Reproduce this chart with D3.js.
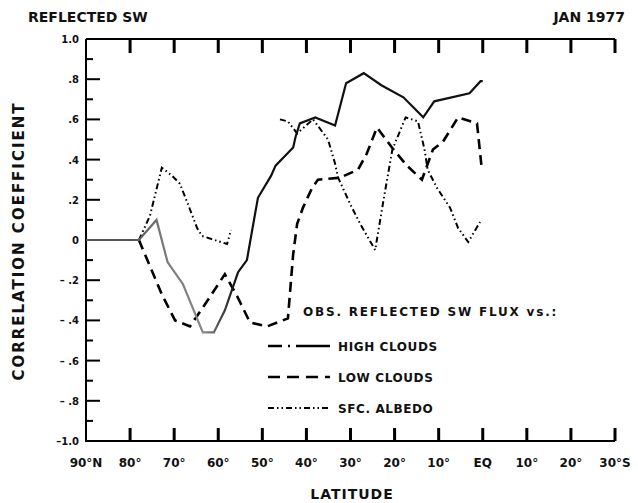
<!DOCTYPE html>
<meta charset="utf-8">
<script src="https://d3js.org/d3.v7.min.js"></script>
<style>
  body { margin: 0; background: #fff; }
  text { font-family: "DejaVu Sans", sans-serif; font-weight: bold; fill: #111; }
</style>
<div id="chart"></div>
<script>
// axis ticks and labels
var latTicks = [90, 80, 70, 60, 50, 40, 30, 20, 10, 0, -10, -20, -30];
var latLabels = ["90°N", "80°", "70°", "60°", "50°", "40°", "30°", "20°", "10°", "EQ", "10°", "20°", "30°S"];
var corrTicks = [1, 0.8, 0.6, 0.4, 0.2, 0, -0.2, -0.4, -0.6, -0.8, -1];
var corrLabels = ["1.0", ".8", ".6", ".4", ".2", "0", "– .2", "– .4", "– .6", "– .8", "–1.0"];

// high clouds (solid)
var highLat = [90, 78, 74, 71.5, 68, 63.5, 61, 58.5, 55.5, 53.5, 51, 48, 47, 43, 42.5, 41.5, 38, 33.5, 31, 27, 23, 18, 13.5, 11, 3, 0.5, 0];
var highVal = [0, 0, 0.10, -0.11, -0.22, -0.46, -0.46, -0.35, -0.16, -0.10, 0.21, 0.32, 0.37, 0.46, 0.51, 0.58, 0.61, 0.57, 0.78, 0.83, 0.77, 0.71, 0.61, 0.69, 0.73, 0.79, 0.79];

// low clouds (dashed)
var lowLat = [78, 72.8, 69.8, 66.4, 63, 58.5, 55.7, 52.8, 48.9, 44.2, 43, 42.1, 40.8, 38.7, 37.4, 32.4, 28.3, 26.3, 24, 20.6, 17.2, 13.8, 11.3, 9, 5.6, 1.3, 0.2];
var lowVal = [0, -0.27, -0.40, -0.43, -0.32, -0.17, -0.28, -0.41, -0.43, -0.39, -0.07, 0.08, 0.16, 0.26, 0.30, 0.31, 0.35, 0.43, 0.56, 0.46, 0.37, 0.30, 0.45, 0.49, 0.61, 0.58, 0.35];

// surface albedo (dash-dot), null = no line
var albLat = [78, 75.5, 72.8, 70.5, 68.7, 66.9, 64.8, 63.7, 58, 57.1, 52, 46, 44.2, 42.1, 38.5, 35.1, 33.5, 32.8, 30.1, 27.8, 24.4, 22.5, 20.5, 17.5, 14.7, 13.2, 12.5, 10.4, 7.4, 5.6, 3.3, 0.6];
var albVal = [0, 0.12, 0.36, 0.32, 0.28, 0.18, 0.06, 0.02, -0.02, 0.05, null, 0.60, 0.59, 0.53, 0.60, 0.50, 0.38, 0.31, 0.18, 0.08, -0.05, 0.20, 0.45, 0.61, 0.59, 0.45, 0.35, 0.26, 0.16, 0.06, -0.01, 0.09];

var legendNames = ["HIGH CLOUDS", "LOW CLOUDS", "SFC. ALBEDO"];

var width = 638, height = 503;
var svg = d3.select("#chart").append("svg")
  .attr("width", width).attr("height", height);

var x = d3.scaleLinear().domain([90, -30]).range([86, 615]);
var y = d3.scaleLinear().domain([-1, 1]).range([441, 39]);

// the scan shows part of the solid curve faded
var grad = svg.append("defs").append("linearGradient").attr("id", "fade")
  .attr("gradientUnits", "userSpaceOnUse")
  .attr("x1", x(90)).attr("x2", x(-30)).attr("y1", 0).attr("y2", 0);
var frac = function(lat) { return (x(lat) - x(90)) / (x(-30) - x(90)); };
[[frac(80), "#555"], [frac(73), "#777"], [frac(63), "#888"], [frac(57), "#222"], [frac(56), "#111"]]
  .forEach(function(s) { grad.append("stop").attr("offset", s[0]).attr("stop-color", s[1]); });

var ink = "#000";
var x0 = x(90), x1 = x(-30), yt = y(1), yb = y(-1);
var inner = latTicks.slice(1, -1);
var minor = d3.range(-0.9, 1, 0.2);

// frame
svg.append("path")
  .attr("d", "M" + x0 + "," + yt + "H" + x1 + "M" + x0 + "," + yt + "V" + yb + "H" + x1)
  .attr("fill", "none").attr("stroke", ink).attr("stroke-width", 2);

// ticks drawn as small filled bars
var ticks = svg.append("g").attr("fill", ink);
ticks.selectAll(".tt").data(inner.concat([-30])).enter().append("rect")
  .attr("x", function(d) { return x(d) - 1.5; }).attr("y", yt)
  .attr("width", 3).attr("height", 14);
ticks.selectAll(".bt").data(inner.concat([-30])).enter().append("rect")
  .attr("x", function(d) { return x(d) - 1.5; }).attr("y", yb - 13)
  .attr("width", 3).attr("height", 13);
ticks.selectAll(".mj").data(corrTicks.slice(1, -1)).enter().append("rect")
  .attr("x", x0).attr("y", function(d) { return y(d) - 1; })
  .attr("width", 14).attr("height", 2);
ticks.selectAll(".mn").data(minor).enter().append("rect")
  .attr("x", x0).attr("y", function(d) { return y(d) - 1; })
  .attr("width", 7).attr("height", 2);

// bottom labels
svg.append("g").selectAll("text").data(latTicks).enter().append("text")
  .attr("x", function(d) { return x(d); }).attr("y", yb + 26)
  .attr("text-anchor", "middle").attr("font-size", 12)
  .text(function(d, i) { return latLabels[i]; });

// left labels
svg.append("g").selectAll("text").data(corrTicks).enter().append("text")
  .attr("x", 79).attr("y", function(d) { return y(d) + 4; })
  .attr("text-anchor", "end").attr("font-size", 10)
  .text(function(d, i) { return corrLabels[i]; });

// series
function series(lats, vals) {
  return lats.map(function(l, i) { return {lat: l, v: vals[i]}; });
}
var line = d3.line()
  .defined(function(d) { return d.v !== null; })
  .x(function(d) { return x(d.lat); })
  .y(function(d) { return y(d.v); });

svg.append("path").datum(series(albLat, albVal)).attr("d", line)
  .attr("fill", "none").attr("stroke", ink).attr("stroke-width", 2)
  .attr("stroke-dasharray", "6,3,1.5,3,1.5,3");
svg.append("path").datum(series(lowLat, lowVal)).attr("d", line)
  .attr("fill", "none").attr("stroke", ink).attr("stroke-width", 2.6)
  .attr("stroke-dasharray", "10,6");
svg.append("path").datum(series(highLat, highVal)).attr("d", line)
  .attr("fill", "none").attr("stroke", "url(#fade)").attr("stroke-width", 2.2);

// legend
var legend = svg.append("g");
legend.append("text").attr("x", 303).attr("y", 316).attr("font-size", 12)
  .attr("letter-spacing", 1.8).text("OBS. REFLECTED SW FLUX vs.:");
var dashes = ["14,6,2,6,40", "12,7", "6,3,1.5,3,1.5,3"];
var widths = [2.4, 2.6, 2];
legendNames.forEach(function(name, i) {
  var ly0 = 346 + i * 31;
  legend.append("line").attr("x1", 268).attr("x2", 330).attr("y1", ly0).attr("y2", ly0)
    .attr("stroke", ink).attr("stroke-width", widths[i]).attr("stroke-dasharray", dashes[i]);
  legend.append("text").attr("x", 338).attr("y", ly0 + 5).attr("font-size", 12)
    .attr("letter-spacing", 0.6).text(name);
});

// titles
svg.append("text").attr("x", 28).attr("y", 22).attr("font-size", 14).text("REFLECTED SW");
svg.append("text").attr("x", 625).attr("y", 22).attr("font-size", 14)
  .attr("text-anchor", "end").text("JAN 1977");
svg.append("text").attr("x", 352).attr("y", 499).attr("font-size", 14)
  .attr("text-anchor", "middle").attr("letter-spacing", 1).text("LATITUDE");
svg.append("text").attr("transform", "translate(24,241) rotate(-90)")
  .attr("font-size", 15).attr("text-anchor", "middle").attr("letter-spacing", 2)
  .text("CORRELATION COEFFICIENT");
</script>
